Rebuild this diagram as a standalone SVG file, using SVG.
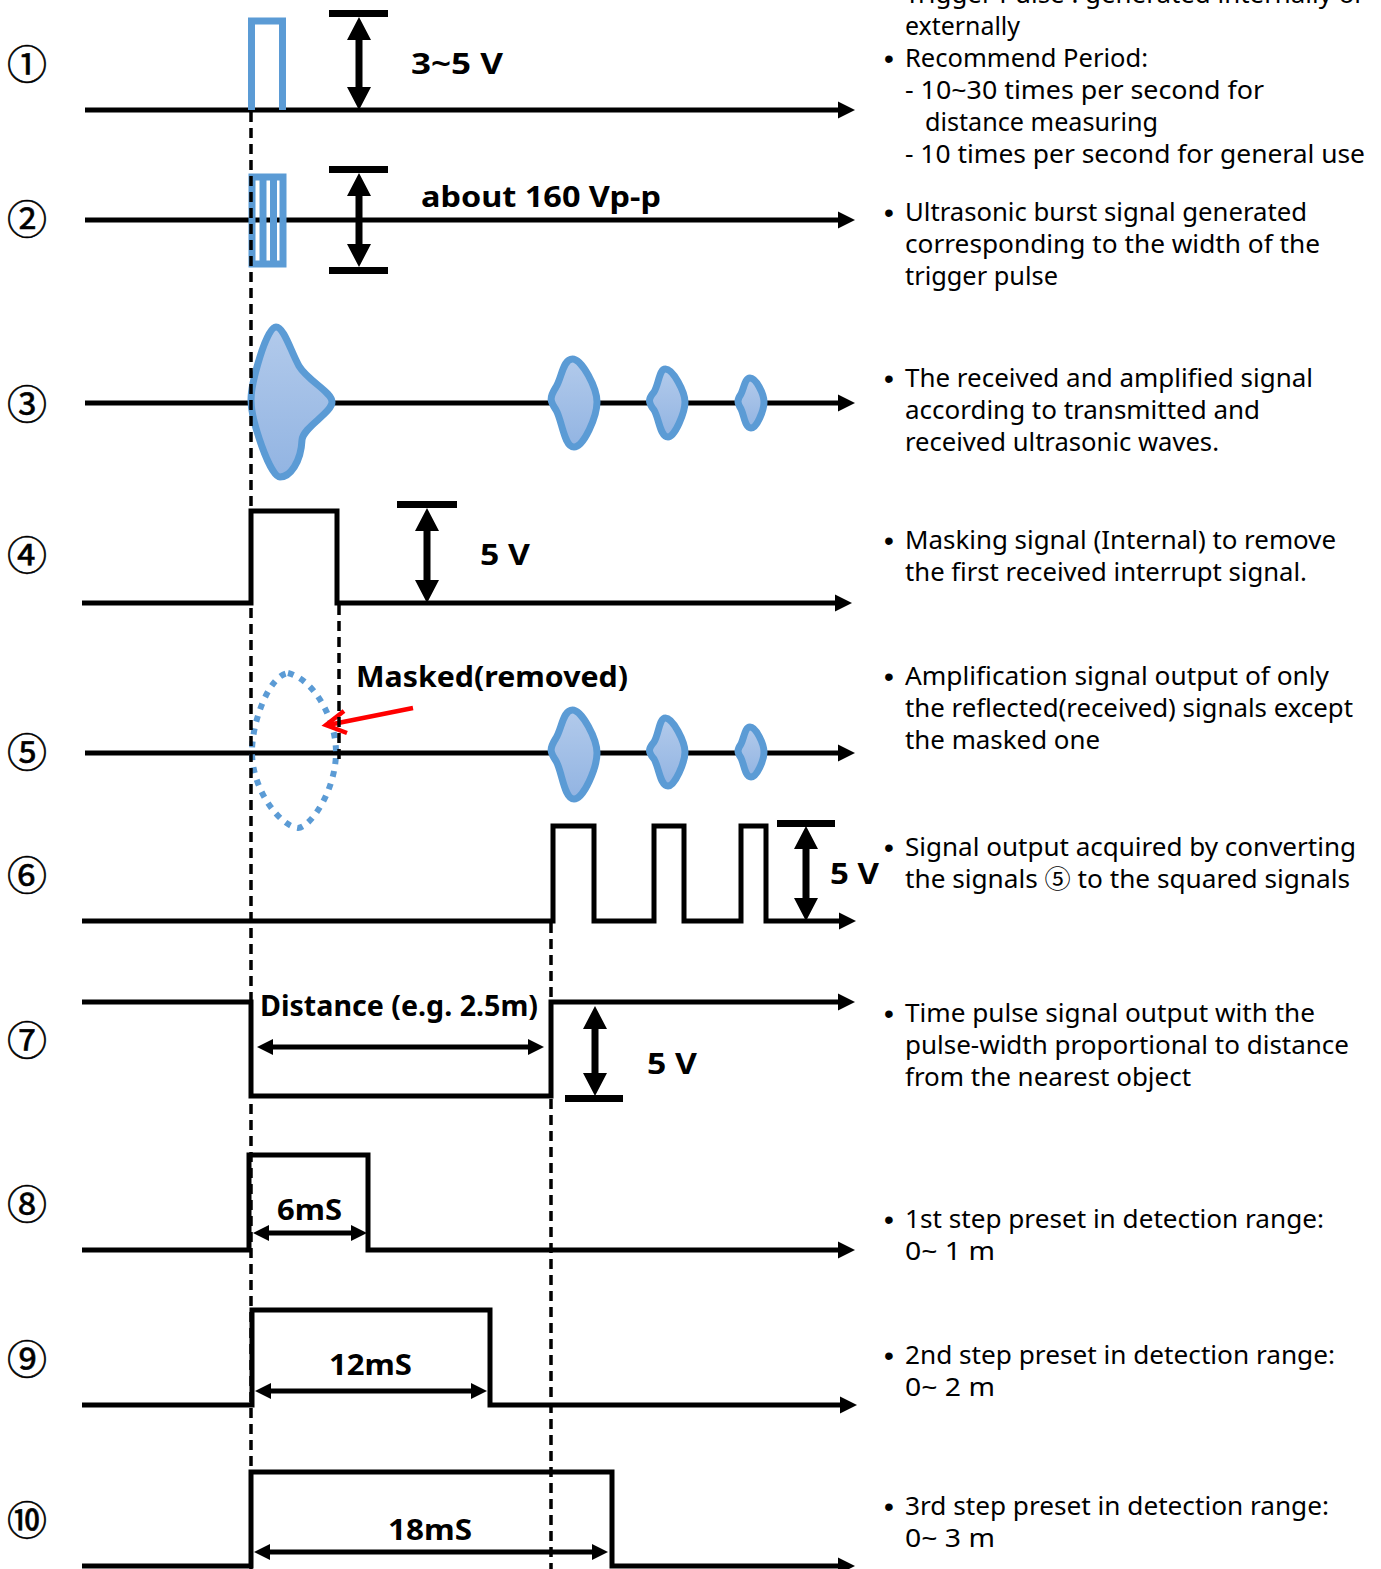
<svg xmlns="http://www.w3.org/2000/svg" width="1381" height="1569" viewBox="0 0 1381 1569">
<style>
.ax{stroke:#000;stroke-width:5;fill:none}
.sig{stroke:#000;stroke-width:5;fill:none;stroke-linejoin:miter}
.guide{stroke:#000;stroke-width:3.5;stroke-dasharray:10 6;fill:none}
.blu{stroke:#5B9BD5;stroke-width:7;fill:none}
.env{stroke:#5B9BD5;stroke-width:7;fill:url(#gr);stroke-linejoin:round}
.blk{fill:#000}
.num{font-family:"Noto Sans CJK KR","Noto Sans",sans-serif;font-size:40px;fill:#000;text-anchor:middle;stroke:#000;stroke-width:0.6}
.d{font-family:"Noto Sans","Noto Sans CJK KR",sans-serif;font-size:25px;fill:#000}
.bu{font-family:"Liberation Sans",sans-serif;font-size:28px;fill:#000}
.b{font-family:"Noto Sans","Noto Sans CJK KR",sans-serif;font-size:29px;font-weight:bold;fill:#000}
</style>
<defs>
<linearGradient id="gr" x1="0" y1="0" x2="0" y2="1">
<stop offset="0" stop-color="#B2CAEB"/>
<stop offset="1" stop-color="#92B4E2"/>
</linearGradient>
</defs>
<rect width="1381" height="1569" fill="#fff"/>

<g id="connectors">
<path class="ax" d="M85,110 H840"/><polygon class="blk" points="855,110 838,101.5 838,118.5"/>
<path class="ax" d="M85,220 H840"/><polygon class="blk" points="855,220 838,211.5 838,228.5"/>
<path class="ax" d="M85,403 H840"/><polygon class="blk" points="855,403 838,394.5 838,411.5"/>
<path class="sig" d="M82,603 H251 V511 H337 V603 H837"/><polygon class="blk" points="852,603 835,594.5 835,611.5"/>
<path class="ax" d="M85,753 H840"/><polygon class="blk" points="855,753 838,744.5 838,761.5"/>
<path class="sig" d="M82,921 H553 V826 H594 V921 H654 V826 H684 V921 H741 V826 H766 V921 H841"/><polygon class="blk" points="856,921 839,912.5 839,929.5"/>
<path class="sig" d="M82,1002 H251 V1096 H551 V1002 H840"/><polygon class="blk" points="855,1002 838,993.5 838,1010.5"/>
<path class="sig" d="M82,1250 H249 V1155 H368 V1250 H840"/><polygon class="blk" points="855,1250 838,1241.5 838,1258.5"/>
<path class="sig" d="M82,1405 H252 V1310 H490 V1405 H842"/><polygon class="blk" points="857,1405 840,1396.5 840,1413.5"/>
<path class="sig" d="M82,1566 H251 V1472 H612 V1566 H840"/><polygon class="blk" points="855,1566 838,1557.5 838,1574.5"/>
</g>

<g id="row1">
<path class="blu" d="M251.5,110 V21 H282.5 V110"/>
<rect class="blk" x="329" y="10" width="59" height="7"/>
<polygon class="blk" points="359,17 371,40 362.5,40 362.5,87 371,87 359,110 347,87 355.5,87 355.5,40 347,40"/>
<text class="b" x="411" y="74" textLength="92" lengthAdjust="spacingAndGlyphs">3~5 V</text>
</g>

<g id="row2">
<rect class="blu" x="252" y="177" width="31" height="87" stroke-width="8"/>
<path class="blu" d="M263,177 V264"/>
<path class="blu" d="M273.5,177 V264" stroke-width="6"/>
<rect class="blk" x="329" y="166" width="59" height="7"/>
<rect class="blk" x="329" y="267" width="59" height="7"/>
<polygon class="blk" points="359,173 371,196 362.5,196 362.5,244 371,244 359,267 347,244 355.5,244 355.5,196 347,196"/>
<text class="b" x="421" y="207" textLength="240" lengthAdjust="spacingAndGlyphs">about 160 Vp-p</text>
</g>

<g id="row3">
<path class="env" d="M276,327 C284,327 291,352 299,366 C308,381 332,392 332,402 C332,413 303,427 302,440 C301,462 290,477 280,477 C270,477 251,420 251,400 C251,384 266,327 276,327 Z"/>
<path class="env" d="M572.5,359 C582,359 597,388 597,402 C597,416 584,447 574,447 C564,447 562,420 556,410 C550,401 549,398 556,387 C562,377 563,359 572.5,359 Z"/>
<path class="env" d="M665.5,369 C673,369 685,392 685,402 C685,412 675,437 668,437 C660,437 659,418 654,410 C648,402 648,399 654,392 C659,384 659,369 665.5,369 Z"/>
<path class="env" d="M750,378 C756,378 764,394 764,402 C764,410 757,428 751,428 C745,428 744,415 741,409 C737,402 737,400 741,394 C744,388 745,378 750,378 Z"/>
</g>

<g id="row4">
<rect class="blk" x="397" y="501" width="60" height="7"/>
<polygon class="blk" points="427,508 439,531 430.5,531 430.5,580 439,580 427,603 415,580 423.5,580 423.5,531 415,531"/>
<text class="b" x="480" y="565" textLength="50" lengthAdjust="spacingAndGlyphs">5 V</text>
</g>

<g id="row5">
<path d="M288,673 C315,680 336,720 336,752 C336,790 311,827 298,828 C280,826 252,790 252,752 C252,720 270,675 288,673 Z" fill="none" stroke="#5B9BD5" stroke-width="6" stroke-dasharray="6 7"/>
<path d="M413,708 L328,725" stroke="#FF0000" stroke-width="4.5" fill="none"/>
<path d="M344,711 L326,725 L347,733" stroke="#FF0000" stroke-width="4.5" fill="none" stroke-linejoin="miter"/>
<text class="b" x="356" y="687" textLength="272" lengthAdjust="spacingAndGlyphs">Masked(removed)</text>
<path class="env" d="M572.5,710 C582,710 597,739 597,753 C597,767 584,799 574,799 C564,799 562,771 556,761 C550,752 549,749 556,738 C562,728 563,710 572.5,710 Z"/>
<path class="env" d="M665.5,718 C673,718 685,742 685,752 C685,762 675,786 668,786 C660,786 659,767 654,759 C648,752 648,749 654,742 C659,734 659,718 665.5,718 Z"/>
<path class="env" d="M750,727 C756,727 764,744 764,752 C764,760 757,777 751,777 C745,777 744,764 741,758 C737,752 737,750 741,744 C744,738 745,727 750,727 Z"/>
</g>

<g id="row6">
<rect class="blk" x="777" y="820" width="58" height="7"/>
<polygon class="blk" points="806,826 818,849 809.5,849 809.5,898 818,898 806,921 794,898 802.5,898 802.5,849 794,849"/>
<text class="b" x="830" y="884" textLength="49" lengthAdjust="spacingAndGlyphs">5 V</text>
</g>

<g id="row7">
<polygon class="blk" points="257,1047 273,1039 273,1044.5 528,1044.5 528,1039 544,1047 528,1055 528,1049.5 273,1049.5 273,1055"/>
<text class="b" x="260" y="1016" textLength="278" lengthAdjust="spacingAndGlyphs">Distance (e.g. 2.5m)</text>
<rect class="blk" x="565" y="1095" width="58" height="7"/>
<polygon class="blk" points="595,1006 607,1029 598.5,1029 598.5,1073 607,1073 595,1096 583,1073 591.5,1073 591.5,1029 583,1029"/>
<text class="b" x="647" y="1074" textLength="50" lengthAdjust="spacingAndGlyphs">5 V</text>
</g>

<g id="row8">
<polygon class="blk" points="253,1233 269,1225 269,1230.5 351,1230.5 351,1225 367,1233 351,1241 351,1235.5 269,1235.5 269,1241"/>
<text class="b" x="277" y="1220" textLength="65" lengthAdjust="spacingAndGlyphs">6mS</text>
</g>

<g id="row9">
<polygon class="blk" points="255,1391 271,1383 271,1388.5 471,1388.5 471,1383 487,1391 471,1399 471,1393.5 271,1393.5 271,1399"/>
<text class="b" x="329" y="1375" textLength="83" lengthAdjust="spacingAndGlyphs">12mS</text>
</g>

<g id="row10">
<polygon class="blk" points="254,1552 270,1544 270,1549.5 592,1549.5 592,1544 608,1552 592,1560 592,1554.5 270,1554.5 270,1560"/>
<text class="b" x="388" y="1540" textLength="84" lengthAdjust="spacingAndGlyphs">18mS</text>
</g>

<g id="guides">
<path class="guide" d="M251,112 V1569"/>
<path class="guide" d="M339,605 V760"/>
<path class="guide" d="M551,923 V1569"/>
</g>

<g id="numbers">
<text class="num" x="27" y="79">①</text>
<text class="num" x="27" y="234">②</text>
<text class="num" x="27" y="419">③</text>
<text class="num" x="27" y="570">④</text>
<text class="num" x="27" y="767">⑤</text>
<text class="num" x="27" y="890">⑥</text>
<text class="num" x="27" y="1055">⑦</text>
<text class="num" x="27" y="1219">⑧</text>
<text class="num" x="27" y="1374">⑨</text>
<text class="num" x="27" y="1535">⑩</text>
</g>

<g id="notes">
<text class="bu" x="884" y="-6">•</text>
<text class="d" x="905" y="3" textLength="460" lengthAdjust="spacingAndGlyphs">Trigger Pulse : generated internally or</text>
<text class="d" x="905" y="35" textLength="115" lengthAdjust="spacingAndGlyphs">externally</text>
<text class="bu" x="884" y="68">•</text>
<text class="d" x="905" y="67" textLength="243" lengthAdjust="spacingAndGlyphs">Recommend Period:</text>
<text class="d" x="905" y="99" textLength="359" lengthAdjust="spacingAndGlyphs">- 10~30 times per second for</text>
<text class="d" x="925" y="131" textLength="233" lengthAdjust="spacingAndGlyphs">distance measuring</text>
<text class="d" x="905" y="163" textLength="460" lengthAdjust="spacingAndGlyphs">- 10 times per second for general use</text>

<text class="bu" x="884" y="222">•</text>
<text class="d" x="905" y="221" textLength="402" lengthAdjust="spacingAndGlyphs">Ultrasonic burst signal generated</text>
<text class="d" x="905" y="253" textLength="415" lengthAdjust="spacingAndGlyphs">corresponding to the width of the</text>
<text class="d" x="905" y="285" textLength="153" lengthAdjust="spacingAndGlyphs">trigger pulse</text>

<text class="bu" x="884" y="388">•</text>
<text class="d" x="905" y="387" textLength="408" lengthAdjust="spacingAndGlyphs">The received and amplified signal</text>
<text class="d" x="905" y="419" textLength="355" lengthAdjust="spacingAndGlyphs">according to transmitted and</text>
<text class="d" x="905" y="451" textLength="314" lengthAdjust="spacingAndGlyphs">received ultrasonic waves.</text>

<text class="bu" x="884" y="550">•</text>
<text class="d" x="905" y="549" textLength="431" lengthAdjust="spacingAndGlyphs">Masking signal (Internal) to remove</text>
<text class="d" x="905" y="581" textLength="402" lengthAdjust="spacingAndGlyphs">the first received interrupt signal.</text>

<text class="bu" x="884" y="686">•</text>
<text class="d" x="905" y="685" textLength="424" lengthAdjust="spacingAndGlyphs">Amplification signal output of only</text>
<text class="d" x="905" y="717" textLength="448" lengthAdjust="spacingAndGlyphs">the reflected(received) signals except</text>
<text class="d" x="905" y="749" textLength="195" lengthAdjust="spacingAndGlyphs">the masked one</text>

<text class="bu" x="884" y="857">•</text>
<text class="d" x="905" y="856" textLength="451" lengthAdjust="spacingAndGlyphs">Signal output acquired by converting</text>
<text class="d" x="905" y="888" textLength="445" lengthAdjust="spacingAndGlyphs">the signals ⑤ to the squared signals</text>

<text class="bu" x="884" y="1023">•</text>
<text class="d" x="905" y="1022" textLength="410" lengthAdjust="spacingAndGlyphs">Time pulse signal output with the</text>
<text class="d" x="905" y="1054" textLength="444" lengthAdjust="spacingAndGlyphs">pulse-width proportional to distance</text>
<text class="d" x="905" y="1086" textLength="286" lengthAdjust="spacingAndGlyphs">from the nearest object</text>

<text class="bu" x="884" y="1229">•</text>
<text class="d" x="905" y="1228" textLength="419" lengthAdjust="spacingAndGlyphs">1st step preset in detection range:</text>
<text class="d" x="905" y="1260" textLength="90" lengthAdjust="spacingAndGlyphs">0~ 1 m</text>

<text class="bu" x="884" y="1365">•</text>
<text class="d" x="905" y="1364" textLength="430" lengthAdjust="spacingAndGlyphs">2nd step preset in detection range:</text>
<text class="d" x="905" y="1396" textLength="90" lengthAdjust="spacingAndGlyphs">0~ 2 m</text>

<text class="bu" x="884" y="1516">•</text>
<text class="d" x="905" y="1515" textLength="424" lengthAdjust="spacingAndGlyphs">3rd step preset in detection range:</text>
<text class="d" x="905" y="1547" textLength="90" lengthAdjust="spacingAndGlyphs">0~ 3 m</text>
</g>
</svg>
